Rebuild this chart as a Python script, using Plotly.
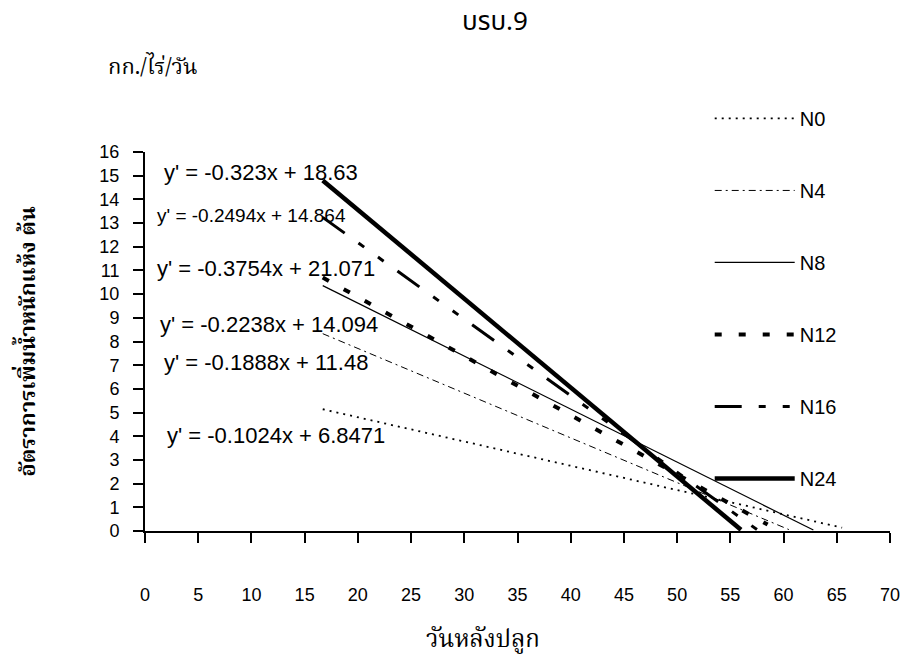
import plotly.graph_objects as go

# ---- data ----
series_names = ["N0", "N4", "N8", "N12", "N16", "N24"]
x_start = [16.7, 16.7, 16.7, 16.7, 16.7, 16.7]
x_end = [65.5, 60.5, 62.8, 58.5, 57.5, 56.0]
y_start = [5.14, 8.33, 10.36, 10.70, 13.24, 14.80]
y_end = [0.14, 0.06, 0.04, 0.27, 0.06, 0.05]

eq_texts = [
    "y' = -0.323x + 18.63",
    "y' = -0.2494x + 14.864",
    "y' = -0.3754x + 21.071",
    "y' = -0.2238x + 14.094",
    "y' = -0.1888x + 11.48",
    "y' = -0.1024x + 6.8471",
]
eq_x = [1.6, 0.95, 0.95, 1.2, 1.6, 1.9]
eq_y = [15.15, 13.33, 11.1, 8.7, 7.1, 4.03]
eq_size = [22, 19, 22, 22, 22, 22]

x_ticks = list(range(0, 71, 5))
y_ticks = list(range(0, 17, 1))

title_text = "บรบ.9"
unit_text = "กก./ไร่/วัน"
x_title = "วันหลังปลูก"
y_title = "อัตราการเพิ่มน้ำหนักแห้ง ต้น"

# ---- styles ----
styles = {
    "N0": dict(width=1.8, dash="2px,5px"),
    "N4": dict(width=1.0, dash="7px,4px,2px,4px"),
    "N8": dict(width=1.2, dash="solid"),
    "N12": dict(width=4.0, dash="7px,17px"),
    "N16": dict(width=3.0, dash="27px,17px,7px,17px,7px,17px"),
    "N24": dict(width=4.5, dash="solid"),
}

fig = go.Figure()
for i, name in enumerate(series_names):
    st = styles[name]
    fig.add_trace(go.Scatter(
        x=[x_start[i], x_end[i]],
        y=[y_start[i], y_end[i]],
        mode="lines",
        name=name,
        legendgroup=name,
        line=dict(color="black", width=st["width"], dash=st["dash"]),
    ))

for t, xx, yy, sz in zip(eq_texts, eq_x, eq_y, eq_size):
    fig.add_annotation(x=xx, y=yy, text=t, xref="x", yref="y",
                       xanchor="left", yanchor="middle", showarrow=False,
                       font=dict(family="Liberation Sans, Arial", size=sz, color="black"))

thai_serif = "Noto Serif Thai, Liberation Serif, serif"
thai_sans = "Noto Sans Thai, Noto Sans, sans-serif"

fig.add_annotation(x=0.47, y=1.343, xref="paper", yref="paper", text=title_text,
                   showarrow=False, xanchor="center", yanchor="middle",
                   font=dict(family=thai_sans, size=26, color="black"))
fig.add_annotation(x=0.0094, y=1.22, xref="paper", yref="paper", text=unit_text,
                   showarrow=False, xanchor="center", yanchor="middle",
                   font=dict(family=thai_serif, size=22, color="black"))
fig.add_annotation(x=0.454, y=-0.29, xref="paper", yref="paper", text=x_title,
                   showarrow=False, xanchor="center", yanchor="middle",
                   font=dict(family=thai_serif, size=24, color="black"))

fig.update_layout(
    width=901, height=660,
    margin=dict(l=145, r=11, t=152, b=129, autoexpand=False),
    paper_bgcolor="white", plot_bgcolor="white",
    showlegend=True,
    legend=dict(
        x=0.758, y=1.14, xanchor="left", yanchor="top",
        font=dict(family="Liberation Sans, Arial", size=20, color="black"),
        itemwidth=80, tracegroupgap=43, bgcolor="rgba(0,0,0,0)",
        traceorder="grouped", maxheight=600,
    ),
)

fig.update_xaxes(
    range=[0, 70], tickvals=x_ticks, ticktext=[str(v) for v in x_ticks],
    showline=True, linecolor="black", linewidth=2,
    ticks="outside", ticklen=10, tickwidth=1.5, tickcolor="black",
    showgrid=False, zeroline=False, ticklabelstandoff=36,
    tickfont=dict(family="Liberation Sans, Arial", size=18, color="black"),
)
fig.update_yaxes(
    range=[0, 16], tickvals=y_ticks, ticktext=[str(v) for v in y_ticks],
    showline=True, linecolor="black", linewidth=2,
    ticks="outside", ticklen=10, tickwidth=1.5, tickcolor="black",
    showgrid=False, zeroline=False, ticklabelstandoff=10,
    tickfont=dict(family="Liberation Sans, Arial", size=18, color="black"),
    title=dict(text="<b>" + y_title + "</b>", standoff=58,
               font=dict(family=thai_serif, size=22, color="black")),
)

fig.write_html("out.html")
